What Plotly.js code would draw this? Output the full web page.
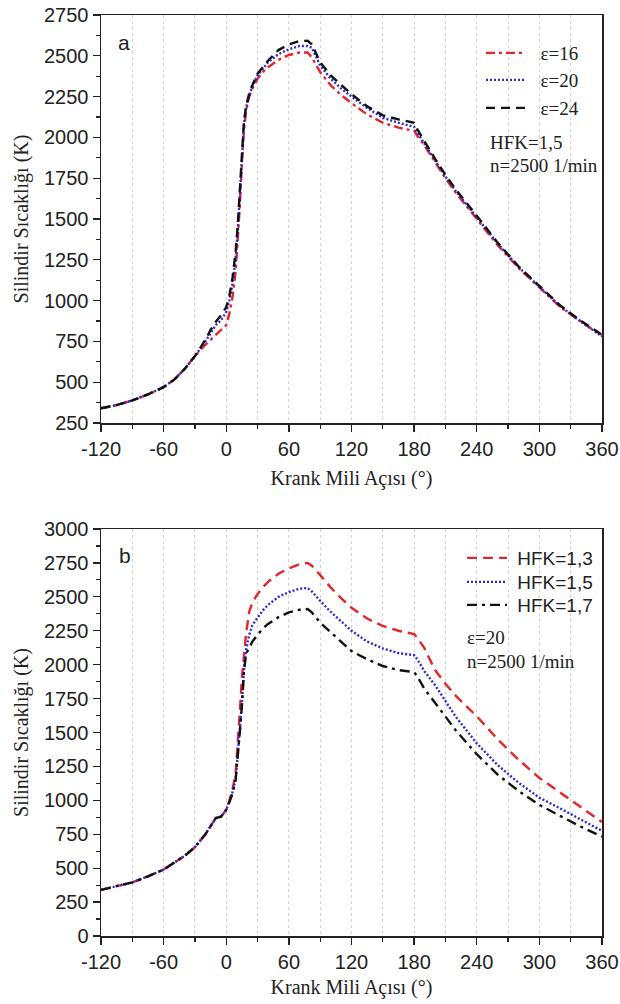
<!DOCTYPE html>
<html>
<head>
<meta charset="utf-8">
<script src="https://cdn.plot.ly/plotly-3.0.1.min.js"></script>
<style>
  html, body { margin: 0; padding: 0; background: #ffffff; }
  #chart { width: 620px; height: 1004px; }
</style>
</head>
<body>
<div id="chart"></div>
<script>
// ---------- Data ----------
// Panel a: cylinder temperature for compression ratios (HFK = 1,5)
const angleA = [-120,-105,-90,-75,-60,-50,-40,-30,-20,-15,-10,-5,0,3,6,9,11,13,15,17,19,22,25,30,35,40,50,60,70,78,82,90,100,110,120,135,150,165,180,183,190,200,210,220,240,260,280,300,320,340,360];
const eps16 = [340,360,388,425,470,515,580,660,730,760,790,815,850,920,1020,1180,1350,1580,1850,2050,2160,2250,2300,2360,2400,2430,2475,2505,2520,2520,2490,2400,2320,2260,2210,2140,2090,2060,2040,2010,1950,1850,1750,1660,1500,1340,1200,1080,960,870,785];
const eps20 = [340,360,388,425,470,515,580,660,750,800,850,880,930,1000,1100,1260,1420,1640,1900,2080,2180,2260,2310,2380,2420,2460,2510,2540,2560,2560,2550,2440,2360,2300,2250,2180,2120,2090,2065,2030,1960,1860,1760,1670,1510,1350,1205,1085,965,870,780];
const eps24 = [340,360,388,425,470,515,580,660,760,820,870,910,960,1030,1140,1300,1460,1680,1930,2100,2190,2270,2320,2390,2430,2470,2535,2570,2590,2592,2570,2460,2380,2320,2265,2190,2135,2110,2090,2050,1975,1870,1770,1680,1520,1355,1210,1090,970,875,790];

// Panel b: cylinder temperature for excess air ratios (epsilon = 20)
const angleB = [-120,-105,-90,-75,-60,-50,-40,-30,-20,-15,-10,-5,0,3,6,9,11,13,15,17,19,22,25,30,35,40,50,60,70,78,82,90,100,110,120,135,150,165,180,183,190,200,210,220,240,260,280,300,320,340,360];
const hfk13 = [340,365,395,440,490,540,590,655,750,810,870,880,930,1000,1080,1200,1400,1650,1900,2100,2230,2390,2460,2520,2570,2610,2670,2710,2740,2750,2730,2660,2570,2490,2420,2340,2285,2250,2225,2200,2120,1960,1860,1770,1620,1450,1300,1165,1055,945,840];
const hfk15 = [340,365,395,440,490,540,590,655,750,810,870,880,930,990,1060,1160,1320,1520,1720,1960,2110,2220,2290,2350,2400,2440,2500,2535,2560,2565,2540,2470,2390,2320,2250,2170,2120,2085,2070,2040,1950,1850,1730,1615,1420,1260,1130,1020,940,860,775];
const hfk17 = [340,365,395,440,490,540,590,655,750,810,870,880,930,985,1050,1150,1300,1500,1700,1950,2080,2130,2170,2220,2265,2300,2350,2385,2405,2410,2385,2310,2240,2170,2100,2040,1990,1960,1945,1915,1820,1720,1620,1515,1340,1190,1070,966,885,805,732];

const namesA = ['\u03b5=16', '\u03b5=20', '\u03b5=24'];
const namesB = ['HFK=1,3', 'HFK=1,5', 'HFK=1,7'];
const xTickLabels = ['-120','-60','0','60','120','180','240','300','360'];
const xTickVals = [-120,-60,0,60,120,180,240,300,360];

// ---------- Styling ----------
const RED = '#e3262b', BLUE = '#2b2bd6', BLACK = '#111111';
const SERIF = 'Liberation Serif, Times New Roman, serif';
const SANS = 'Liberation Sans, Arial, sans-serif';
const TXT = '#222222';
const NB = '\u00a0';

const H = 1004, L = 101, R = 18, W = 620 - L - R;
const px2x = p => (p - L) / W;
const py2y = p => 1 - p / H;

function line(x, y, name, color, dash, xa, ya, leg) {
  return {
    type: 'scatter', mode: 'lines', x: x, y: y, name: name,
    xaxis: xa, yaxis: ya, legend: leg,
    line: { color: color, width: 2.4, dash: dash }
  };
}

const traces = [
  line(angleA, eps16, NB + NB + namesA[0], RED,   '9px,4px,3px,4px', 'x',  'y',  'legend'),
  line(angleA, eps20, NB + NB + namesA[1], BLUE,  '2px,2px',         'x',  'y',  'legend2'),
  line(angleA, eps24, NB + NB + namesA[2], BLACK, '9px,6px',         'x',  'y',  'legend3'),
  line(angleB, hfk13, NB + namesB[0], RED,   '10px,6px',        'x2', 'y2', 'legend4'),
  line(angleB, hfk15, NB + namesB[1], BLUE,  '2px,2px',         'x2', 'y2', 'legend5'),
  line(angleB, hfk17, NB + namesB[2], BLACK, '10px,5px,3px,5px','x2', 'y2', 'legend6')
];

function mainX(anchor, titleText, standoff) {
  return {
    anchor: anchor, domain: [0, 1], range: [-120, 360],
    tickmode: 'array', tickvals: xTickVals, ticktext: xTickLabels,
    ticks: 'outside', ticklen: 7, tickwidth: 1.3, tickcolor: '#222',
    showline: true, linecolor: '#222', linewidth: 1.5, mirror: true,
    showgrid: false, zeroline: false,
    tickfont: { family: SANS, size: 20, color: TXT },
    minor: { tickmode: 'linear', tick0: -120, dtick: 30, ticks: 'outside', ticklen: 4, tickwidth: 1.2, tickcolor: '#222',
             showgrid: true, gridcolor: '#d2d2d2', griddash: 'dot', gridwidth: 1 },
    title: { text: titleText, font: { family: SERIF, size: 20, color: TXT }, standoff: standoff }
  };
}
function topX(overlay, anchor) {
  return {
    overlaying: overlay, anchor: anchor, side: 'top', range: [-120, 360],
    tickmode: 'linear', tick0: -24, dtick: 96, ticks: 'inside', ticklen: 7, tickwidth: 1.3, tickcolor: '#222',
    showticklabels: false, showline: false, showgrid: false, zeroline: false,
    minor: { tickmode: 'linear', tick0: -24, dtick: 48, ticks: 'inside', ticklen: 4, tickwidth: 1.2, tickcolor: '#222', showgrid: false }
  };
}
function mainY(anchor, domain, range, titleText) {
  return {
    anchor: anchor, domain: domain, range: range,
    tickmode: 'linear', tick0: 0, dtick: 250,
    ticks: 'outside', ticklen: 7, tickwidth: 1.3, tickcolor: '#222',
    showline: true, linecolor: '#222', linewidth: 1.5, mirror: true,
    showgrid: false, zeroline: false,
    tickfont: { family: SANS, size: 20, color: TXT },
    minor: { tickmode: 'linear', tick0: 0, dtick: 125, ticks: 'outside', ticklen: 4, tickwidth: 1.2, tickcolor: '#222', showgrid: false },
    title: { text: titleText, font: { family: SERIF, size: 20, color: TXT }, standoff: 10 }
  };
}
function rightY(overlay, anchor, range, t0, major, minorStep) {
  return {
    overlaying: overlay, anchor: anchor, side: 'right', range: range,
    tickmode: 'linear', tick0: t0, dtick: major, ticks: 'inside', ticklen: 7, tickwidth: 1.3, tickcolor: '#222',
    showticklabels: false, showline: false, zeroline: false,
    showgrid: true, gridcolor: '#eeeeee', gridwidth: 1,
    minor: { tickmode: 'linear', tick0: t0, dtick: minorStep, ticks: 'inside', ticklen: 5, tickwidth: 1.2, tickcolor: '#222', showgrid: false }
  };
}

const domA = [py2y(423), py2y(15)];
const domB = [py2y(936), py2y(529)];

function legendAt(xPix, yPix, family, size) {
  return {
    x: px2x(xPix), y: py2y(yPix), xanchor: 'left', yanchor: 'middle',
    bgcolor: 'rgba(0,0,0,0)', borderwidth: 0, itemwidth: 40,
    font: { family: family, size: size, color: TXT }, orientation: 'v'
  };
}

const layout = {
  width: 620, height: 1004,
  margin: { l: L, r: R, t: 0, b: 0 },
  paper_bgcolor: '#ffffff', plot_bgcolor: '#ffffff',
  showlegend: true,
  xaxis: mainX('y', 'Krank Mili A\u00e7\u0131s\u0131 (\u00b0)', 12),
  yaxis: mainY('x', domA, [250, 2750], 'Silindir S\u0131cakl\u0131\u011f\u0131 (K)'),
  xaxis2: mainX('y2', 'Krank Mili A\u00e7\u0131s\u0131 (\u00b0)', 8),
  yaxis2: mainY('x2', domB, [0, 3000], 'Silindir S\u0131cakl\u0131\u011f\u0131 (K)'),
  xaxis3: topX('x', 'y'),
  yaxis3: rightY('y', 'x', [250, 2750], 0, 500, 250),
  xaxis4: topX('x2', 'y2'),
  yaxis4: rightY('y2', 'x2', [0, 3000], 300, 600, 300),
  legend:  legendAt(481, 53, SERIF, 19),
  legend2: legendAt(481, 80, SERIF, 19),
  legend3: legendAt(481, 108, SERIF, 19),
  legend4: legendAt(462, 558, SANS, 19),
  legend5: legendAt(462, 582, SANS, 19),
  legend6: legendAt(462, 605, SANS, 19),
  annotations: [
    { xref: 'paper', yref: 'paper', x: px2x(116), y: py2y(43), xanchor: 'left', yanchor: 'middle', showarrow: false,
      text: 'a', font: { family: SANS, size: 21, color: TXT } },
    { xref: 'paper', yref: 'paper', x: px2x(117), y: py2y(555), xanchor: 'left', yanchor: 'middle', showarrow: false,
      text: 'b', font: { family: SANS, size: 21, color: TXT } },
    { xref: 'paper', yref: 'paper', x: px2x(488), y: py2y(143), xanchor: 'left', yanchor: 'middle', showarrow: false,
      text: 'HFK=1,5', font: { family: SERIF, size: 19, color: TXT } },
    { xref: 'paper', yref: 'paper', x: px2x(488), y: py2y(166), xanchor: 'left', yanchor: 'middle', showarrow: false,
      text: 'n=2500 1/min', font: { family: SERIF, size: 19, color: TXT } },
    { xref: 'paper', yref: 'paper', x: px2x(465), y: py2y(637), xanchor: 'left', yanchor: 'middle', showarrow: false,
      text: '\u03b5=20', font: { family: SERIF, size: 19, color: TXT } },
    { xref: 'paper', yref: 'paper', x: px2x(465), y: py2y(661), xanchor: 'left', yanchor: 'middle', showarrow: false,
      text: 'n=2500 1/min', font: { family: SERIF, size: 19, color: TXT } }
  ]
};

Plotly.newPlot('chart', traces, layout, { displayModeBar: false, staticPlot: true });
</script>
</body>
</html>
